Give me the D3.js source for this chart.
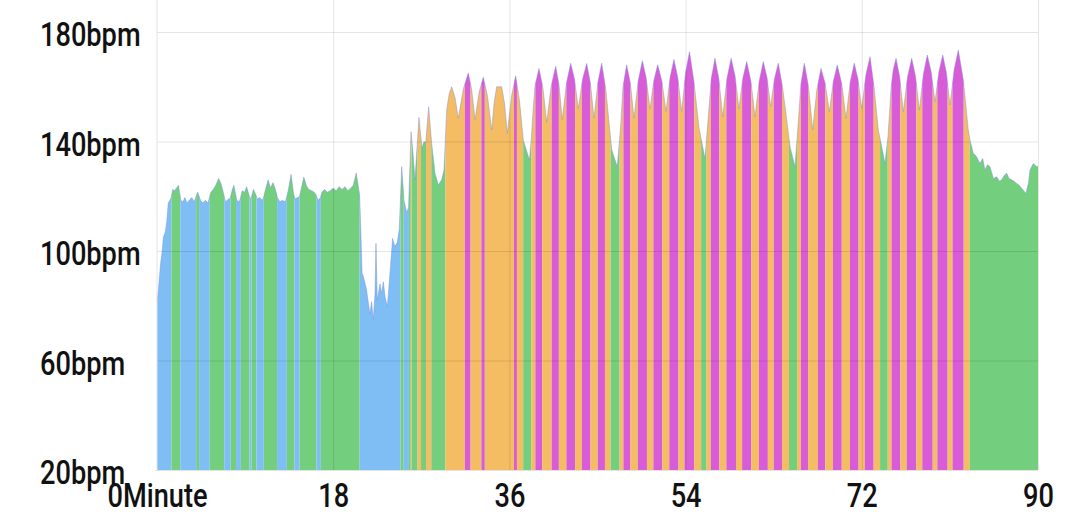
<!DOCTYPE html>
<html>
<head>
<meta charset="utf-8">
<script src="https://cdn.jsdelivr.net/npm/d3@7"></script>
<style>
body { margin: 0; background: #fff; }
text { font-family: Roboto, "DejaVu Sans Condensed", sans-serif; }
</style>
</head>
<body>
<script>

// heart rate samples (minute, bpm)
var minutes = [
    0, 0.15, 0.35, 0.5, 0.65, 0.85, 1.0, 1.15, 1.3, 1.45, 1.6, 1.8, 2.0, 2.2, 2.3, 2.45, 2.65, 2.85, 3.05, 3.3,
    3.55, 3.8, 4.15, 4.45, 4.7, 4.95, 5.2, 5.5, 5.75, 6.0, 6.3, 6.55, 6.8, 7.0, 7.3, 7.45, 7.7, 7.85, 8.05, 8.15,
    8.4, 8.55, 8.7, 8.95, 9.15, 9.35, 9.5, 9.65, 9.85, 10.05, 10.25, 10.5, 10.75, 10.9, 11.05, 11.35, 11.6, 11.85, 12.1, 12.3,
    12.55, 12.8, 13.1, 13.25, 13.4, 13.7, 13.95, 14.1, 14.35, 14.55, 14.75, 15.0, 15.25, 15.5, 15.8, 16.05, 16.25, 16.45, 16.7, 16.85,
    17.1, 17.4, 17.7, 18.0, 18.3, 18.6, 18.9, 19.2, 19.5, 19.8, 20.05, 20.35, 20.55, 20.7, 20.8, 20.95, 21.1, 21.4, 21.75, 21.92,
    22.1, 22.27, 22.37, 22.5, 22.78, 22.95, 23.12, 23.3, 23.53, 23.8, 24.07, 24.3, 24.55, 24.75, 25.0, 25.23, 25.5, 25.7, 25.95, 26.15,
    26.35, 26.76, 27.07, 27.27, 27.45, 27.75, 28.06, 28.4, 28.74, 29.08, 29.32, 29.59, 29.86, 30.11, 30.45, 30.78, 31.29, 31.8, 32.15, 32.49,
    32.91, 33.33, 33.76, 34.19, 34.45, 34.7, 35.21, 35.5, 35.79, 36.22, 36.64, 37.03, 37.42, 38.05, 38.26, 38.44, 38.62, 39.02, 39.42, 39.81,
    40.27, 40.73, 41.07, 41.4, 41.83, 42.26, 42.65, 43.04, 43.47, 43.9, 44.27, 44.64, 45.04, 45.43, 45.85, 46.45, 47.02, 47.35, 47.6, 47.98,
    48.36, 48.73, 49.16, 49.58, 49.97, 50.36, 50.76, 51.15, 51.58, 52.0, 52.41, 52.81, 53.2, 53.6, 54.0, 54.4, 54.85, 55.37, 55.98, 56.34,
    56.62, 57.0, 57.4, 57.79, 58.22, 58.65, 59.05, 59.45, 59.85, 60.24, 60.67, 61.09, 61.52, 61.94, 62.32, 62.69, 63.08, 63.47, 63.9, 64.26,
    64.67, 65.18, 65.53, 65.78, 66.13, 66.56, 66.98, 67.4, 67.83, 68.26, 68.68, 69.09, 69.5, 69.95, 70.39, 70.81, 71.23, 71.61, 71.99, 72.42,
    72.84, 73.25, 73.69, 74.37, 74.68, 75.0, 75.2, 75.5, 75.87, 76.24, 76.67, 77.1, 77.49, 77.88, 78.29, 78.69, 79.08, 79.48, 79.88, 80.27,
    80.64, 81.01, 81.44, 81.86, 82.37, 82.88, 83.05, 83.39, 83.72, 84.07, 84.35, 84.58, 84.84, 85.1, 85.44, 85.79, 86.05, 86.3, 86.53, 86.81,
    87.04, 87.31, 87.55, 87.82, 88.08, 88.33, 88.55, 88.77, 89.03, 89.18, 89.52, 89.87, 90
];

var bpm = [
    82, 86, 95, 99, 105, 107, 111, 117.5, 118.5, 119.5, 122.5, 122, 123, 124, 121.5, 118.5, 118, 119.5, 117.5, 118.5,
    119.5, 118, 121.5, 118.5, 117.5, 118.5, 117.5, 121.5, 122.5, 124, 126.5, 124.5, 121, 118, 119, 119, 122.5, 124, 120.5, 118.5,
    118, 119.7, 122, 121.5, 123.5, 121, 119.2, 119.8, 122.5, 121, 119, 119.5, 118.5, 119.8, 122, 126, 123, 125, 122.5, 119.5,
    118, 118.5, 118, 119.8, 122, 128, 121, 119, 119.5, 119.8, 123, 127, 124, 122.5, 122, 121.5, 120.5, 118.5, 119.5, 121.5,
    122.5, 121.5, 122, 123, 122, 123.5, 122.5, 123.5, 122, 123, 124, 128.5, 124, 120.5, 110, 92, 90.5, 86, 77, 81.5,
    75, 84.5, 102.8, 82, 88, 84.5, 88.8, 83.3, 79.7, 92, 104.6, 101.6, 103.2, 108, 130.8, 118.6, 114, 116, 143.6, 136,
    126, 148.8, 137.5, 140, 139.5, 152.7, 139.3, 128.4, 124.1, 126, 129.6, 151.5, 157.6, 160, 156, 148.5, 159.2, 165, 159, 148,
    158.1, 163.5, 156.7, 144.2, 154.5, 160, 160, 154, 143, 156.6, 164, 155, 140.5, 133.2, 142, 152.7, 160.5, 166.7, 159.8, 147,
    160.3, 167.5, 160.7, 148, 161.4, 168.6, 162.8, 152, 162.7, 168.5, 161.5, 148.5, 161.6, 168.6, 159, 137, 130.8, 145, 160, 168,
    161.2, 148.5, 162.2, 169.5, 163.4, 152, 162.4, 168, 162, 151, 163.4, 170, 163.4, 151, 165.2, 172.8, 162, 145, 133.8, 150,
    163, 170.4, 162.9, 149, 162.9, 170.4, 164, 152, 163.2, 169.2, 162.1, 149, 162.1, 169.2, 163.4, 152.7, 163, 168.6, 160, 150,
    138, 130.8, 148, 161, 168.6, 160, 144.2, 158.8, 166.7, 161.2, 150.9, 162, 167.9, 161.1, 148.5, 161.6, 168.6, 162.8, 152.1, 164.4,
    171, 160, 144.2, 132, 142, 160, 166, 170.4, 163.6, 150.9, 163.6, 170.4, 163.8, 151.5, 164.6, 171.6, 165.6, 154.5, 165.6, 171.6,
    165.2, 153.3, 166.4, 173.4, 162.5, 144.2, 140.5, 135.7, 134.5, 132, 133.8, 129.6, 131.5, 130.8, 126.5, 127.1, 125.5, 126, 127.5, 128.4,
    126.5, 126, 125.5, 124.7, 124, 122.9, 122, 121, 125, 129.6, 132, 130.8, 131
];

var xTicks = [0, 18, 36, 54, 72, 90];
var yTicks = [20, 60, 100, 140, 180];

// heart rate zones: upper limits and colours
var zoneLimits = [120, 141, 161];
var zoneColors = ["#7fbef4", "#73ce7e", "#f4bc63", "#d85bd8"];


var w = 1080;
var h = 524;

var margin = {
    top: 32,
    bottom: 54,
    left: 157,
    right: 42
};

// labels use a narrow face, squeeze the glyphs a bit
var squeeze = 0.8;

var x = d3.scaleLinear()
    .domain([0, 90])
    .range([margin.left, w - margin.right]);

var y = d3.scaleLinear()
    .domain([20, 180])
    .range([h - margin.bottom, margin.top]);

var svg = d3.select("body").append("svg")
    .attr("width", w)
    .attr("height", h)
    .style("background", "#fff");

var zoneOf = function(v) {
    return d3.bisectRight(zoneLimits, v);
};

// samples as points
var pts = minutes.map(function(m, i) {
    return { t: m, v: bpm[i] };
});

// split the line where it crosses a zone limit, so each stripe gets its colour
var split = [pts[0]];
for (var i = 1; i < pts.length; i++) {
    var a = pts[i - 1], b = pts[i];
    var lims = zoneLimits.filter(function(l) {
        return (a.v - l) * (b.v - l) < 0;
    });
    if (b.v < a.v) lims.reverse();
    lims.forEach(function(l) {
        var f = (l - a.v) / (b.v - a.v);
        split.push({ t: a.t + f * (b.t - a.t), v: l });
    });
    split.push(b);
}

// group into runs of the same zone
var runs = [];
var cur = null;
for (var j = 1; j < split.length; j++) {
    var p = split[j - 1], q = split[j];
    var z = zoneOf((p.v + q.v) / 2);
    if (!cur || cur.zone !== z) {
        cur = { zone: z, points: [p] };
        runs.push(cur);
    }
    cur.points.push(q);
}

var area = d3.area()
    .x(function(d) { return x(d.t); })
    .y0(y(20))
    .y1(function(d) { return y(d.v); });

var line = d3.line()
    .x(function(d) { return x(d.t); })
    .y(function(d) { return y(d.v); });

var chart = svg.append("g");

chart.selectAll(".zone")
    .data(runs)
    .enter()
        .append("path")
        .classed("zone", true)
        .attr("d", function(d) { return area(d.points); })
        .attr("fill", function(d) { return zoneColors[d.zone]; });

chart.append("path")
    .attr("d", line(pts))
    .attr("fill", "none")
    .attr("stroke", "#7d8fe2")
    .attr("stroke-opacity", 0.45)
    .attr("stroke-width", 1);

//Grid lines
var xGrid = d3.axisBottom(x)
    .tickValues(xTicks.slice(1))
    .tickSize(-(h - margin.bottom))
    .tickFormat("");

svg.append("g")
    .attr("transform", "translate(0," + (h - margin.bottom) + ")")
    .call(xGrid)
    .call(function(g) {
        g.select(".domain").remove();
        g.selectAll("line").attr("stroke", "rgba(0,0,0,0.1)");
    });

var yGrid = d3.axisLeft(y)
    .tickValues(yTicks.slice(1))
    .tickSize(-(w - margin.left - margin.right))
    .tickFormat("");

svg.append("g")
    .attr("transform", "translate(" + margin.left + ",0)")
    .call(yGrid)
    .call(function(g) {
        g.select(".domain").remove();
        g.selectAll("line").attr("stroke", "rgba(0,0,0,0.1)");
    });

// frame: left and bottom
svg.append("line")
    .attr("x1", x(0)).attr("x2", x(0))
    .attr("y1", 0).attr("y2", y(20))
    .attr("stroke", "#e2e2e2");

svg.append("line")
    .attr("x1", x(0) - 2).attr("x2", x(90))
    .attr("y1", y(20) + 0.5).attr("y2", y(20) + 0.5)
    .attr("stroke", "#e2e2e2");

//Axes labels
var yAxis = d3.axisLeft(y)
    .tickValues(yTicks)
    .tickSize(0)
    .tickFormat(function(d) { return d + "bpm"; });

svg.append("g")
    .attr("transform", "translate(" + margin.left + ",0)")
    .call(yAxis)
    .call(function(g) {
        g.select(".domain").remove();
        g.selectAll("text")
            .attr("x", 0)
            .attr("dy", "0.4em")
            .attr("text-anchor", "start")
            .attr("transform", "translate(" + (40 - margin.left) + ",0) scale(" + squeeze + ",1)")
            .attr("fill", "#111")
            .style("font-size", "34px")
            .style("font-weight", "500");
    });

var xAxis = d3.axisBottom(x)
    .tickValues(xTicks)
    .tickSize(0)
    .tickFormat(function(d) { return d === 0 ? "0Minute" : d; });

svg.append("g")
    .attr("transform", "translate(0," + (h - margin.bottom) + ")")
    .call(xAxis)
    .call(function(g) {
        g.select(".domain").remove();
        g.selectAll("text")
            .attr("y", 0)
            .attr("dy", "1.1em")
            .attr("transform", "scale(" + squeeze + ",1)")
            .attr("fill", "#111")
            .style("font-size", "34px")
            .style("font-weight", "500");
    });

</script>
</body>
</html>
